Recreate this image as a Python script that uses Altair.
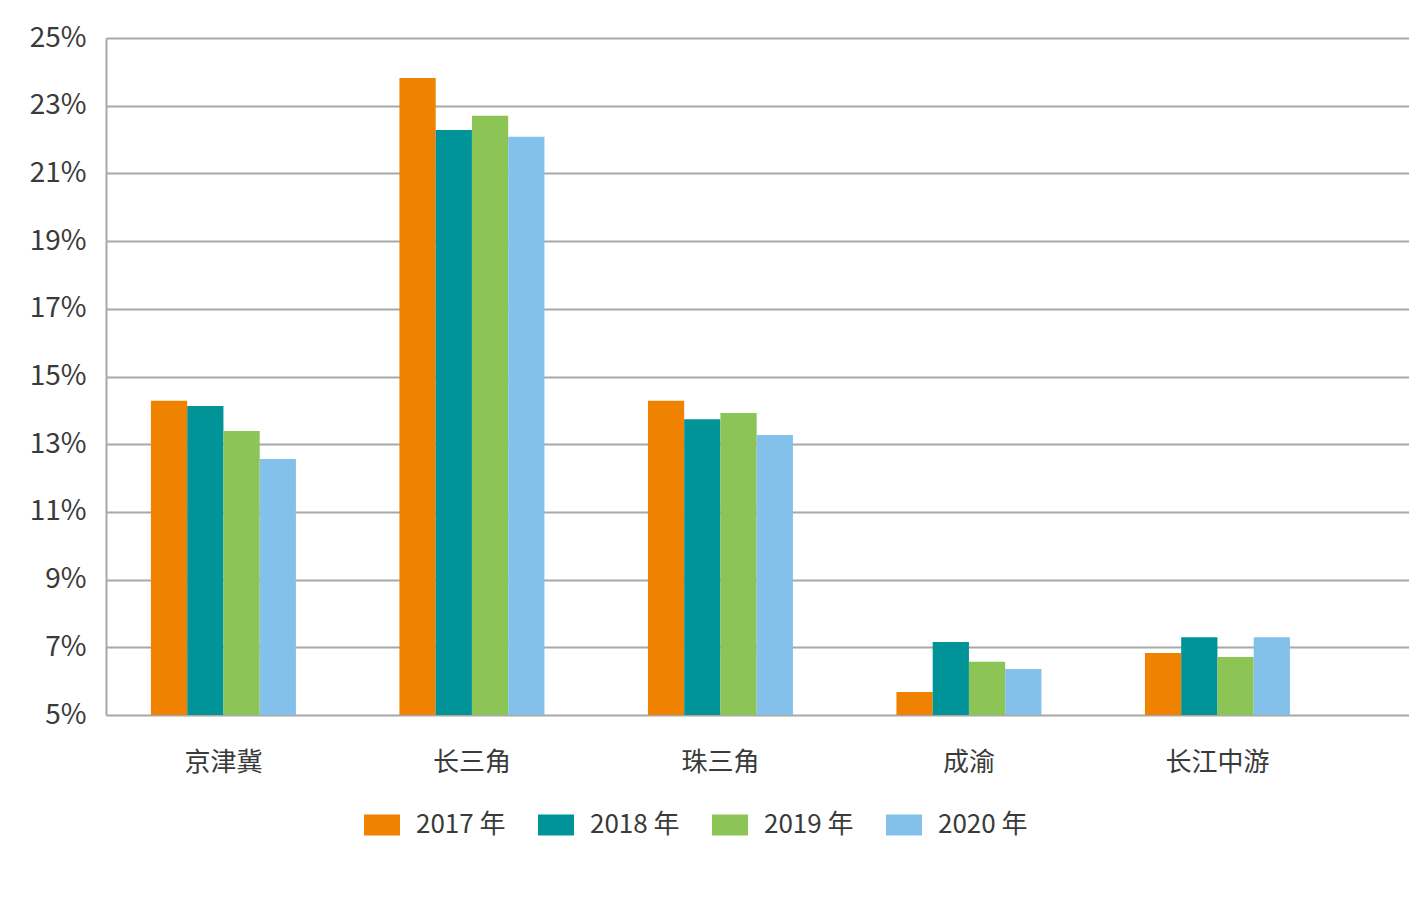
import altair as alt
import pandas as pd

regions = ["京津冀", "长三角", "珠三角", "成渝", "长江中游"]
years = ["2017 年", "2018 年", "2019 年", "2020 年"]
v2017 = [14.28, 23.82, 14.28, 5.68, 6.83]
v2018 = [14.13, 22.28, 13.74, 7.16, 7.30]
v2019 = [13.39, 22.70, 13.92, 6.57, 6.71]
v2020 = [12.56, 22.08, 13.27, 6.36, 7.30]
y_ticks = [5, 7, 9, 11, 13, 15, 17, 19, 21, 23, 25]
colors = ["#EF8200", "#009398", "#8DC456", "#83C1EA"]

rows = []
for yr, vals in zip(years, [v2017, v2018, v2019, v2020]):
    for r, v in zip(regions, vals):
        rows.append({"region": r, "year": yr, "value": v})
df = pd.DataFrame(rows)

FONT = "Noto Sans CJK SC"
TXT = "#3a3a3a"
GRID = "#A8A8A8"

chart = alt.Chart(df).mark_bar(strokeWidth=0).encode(
    x=alt.X(
        "region:N", sort=regions,
        scale=alt.Scale(paddingInner=0.4165, paddingOuter=0.33, align=0.274),
        axis=alt.Axis(title=None, labelAngle=0, domain=False, ticks=False, grid=False,
                      labelFont=FONT, labelFontSize=26, labelColor=TXT, labelPadding=34),
    ),
    xOffset=alt.XOffset("year:N", sort=years, scale=alt.Scale(paddingInner=0, paddingOuter=0)),
    y=alt.Y(
        "value:Q",
        scale=alt.Scale(domain=[5, 25], zero=False, nice=False),
        axis=alt.Axis(title=None, values=y_ticks, labelExpr="datum.value + '%'",
                      ticks=False, domain=True, domainColor=GRID, domainWidth=2,
                      grid=True, gridColor=GRID, gridWidth=2,
                      labelFont=FONT, labelFontSize=28, labelColor=TXT, labelPadding=20),
    ),
    y2=alt.datum(5),
    color=alt.Color(
        "year:N", sort=years,
        scale=alt.Scale(domain=years, range=colors),
        legend=alt.Legend(
            title=None, orient="none", legendX=258, legendY=769, direction="horizontal",
            columns=4, symbolType="M-1,-0.583L1,-0.583L1,0.583L-1,0.583Z", symbolSize=1296,
            symbolStrokeWidth=0, labelFont=FONT, labelFontSize=26, labelColor=TXT,
            labelOffset=16, columnPadding=32, padding=0,
        ),
    ),
).properties(
    width=1303, height=677,
    autosize=alt.AutoSizeParams(type="none"),
    padding={"left": 98, "top": 30, "right": 0, "bottom": 150},
).configure_view(stroke=None)

chart.save("out.html", embed_options={"renderer": "svg", "actions": False})
